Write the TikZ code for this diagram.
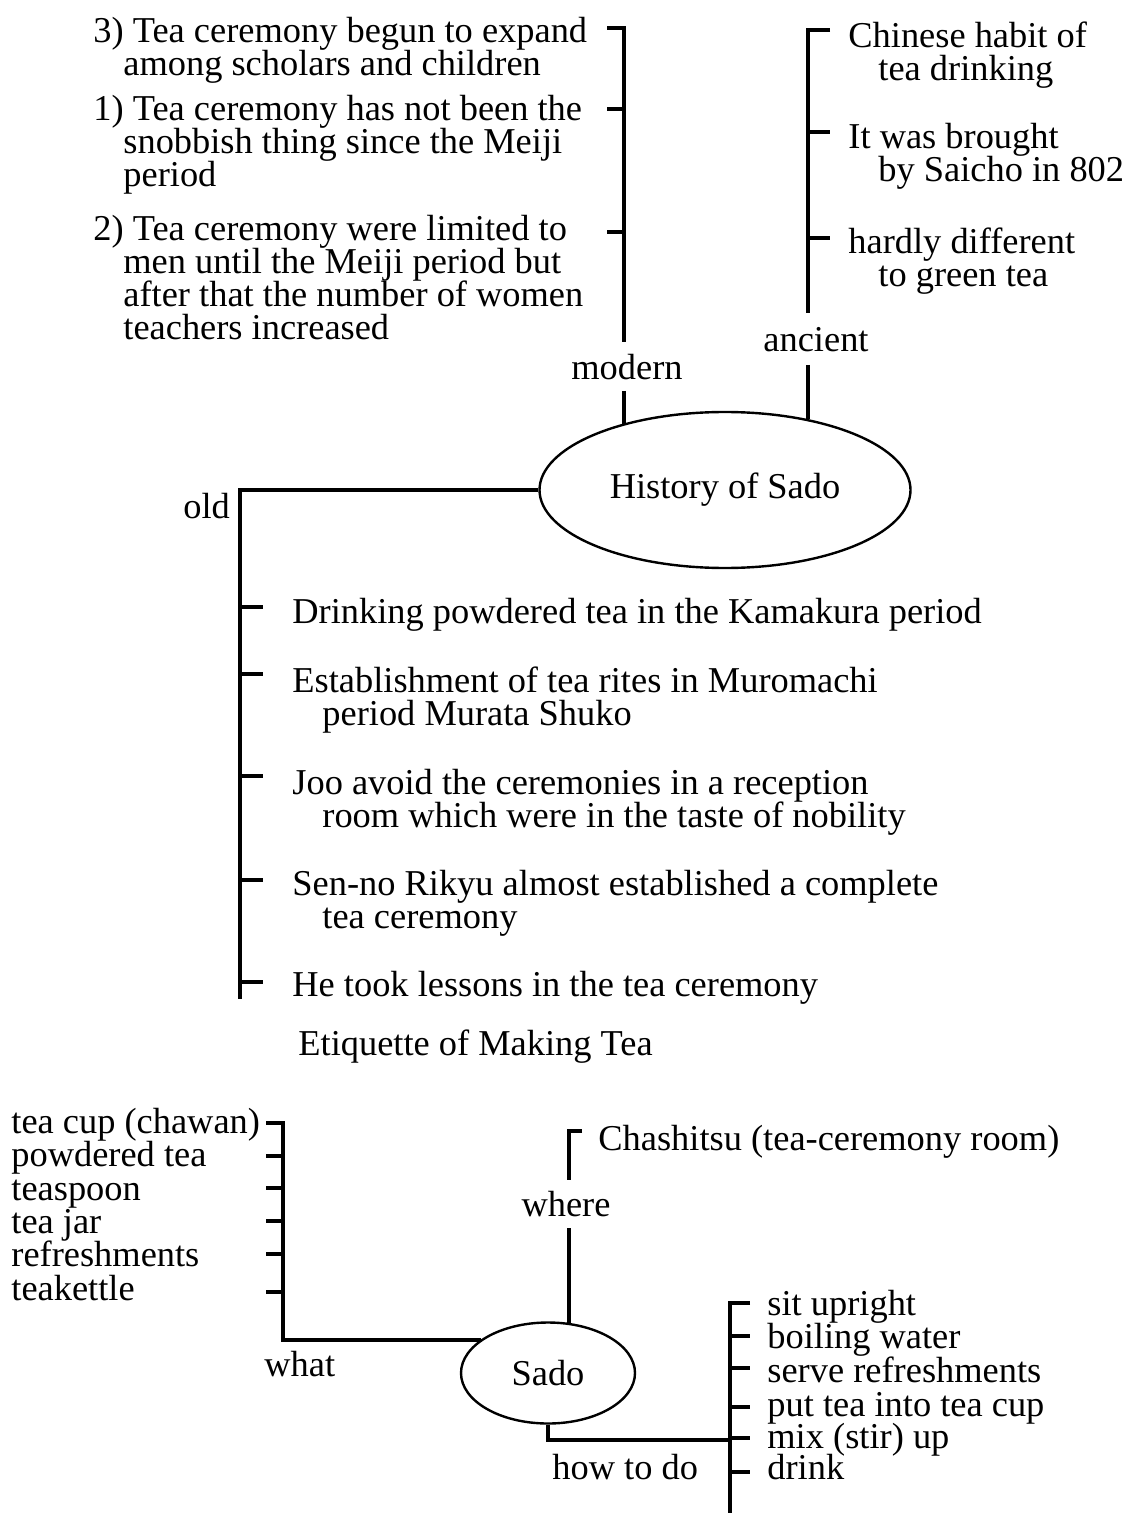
\documentclass[tikz,border=0pt]{standalone}
\usepackage{fontspec}
\setmainfont{Liberation Serif}
\usetikzlibrary{shapes.geometric}
\begin{document}
\begin{tikzpicture}[x=0.5pt, y=-0.5pt,
  leaf/.style={anchor=base west, inner sep=0pt, align=left, font=\leaffont},
  topic/.style={draw, ellipse, line width=1.2pt, inner sep=0pt, font=\leaffont},
  branch/.style={line width=1.6pt}]
\def\leaffont{\fontsize{18.2}{16.5}\selectfont\lineskiplimit=-5pt}
\def\ind{\hspace*{15pt}}
\useasboundingbox (0,0) rectangle (1123,1513);

\node[topic, minimum width=185.5pt, minimum height=78pt] (hist) at (725,490) {History of Sado};

\begin{scope} % MODERN BRANCH (placed at baseline of last line)
\node[leaf] (m3) at (93,76) {3) Tea ceremony begun to expand\\\ind among scholars and children};
\node[leaf] (m1) at (93,187) {1) Tea ceremony has not been the\\\ind snobbish thing since the Meiji\\\ind period};
\node[leaf] (m2) at (93,340) {2) Tea ceremony were limited to\\\ind men until the Meiji period but\\\ind after that the number of women\\\ind teachers increased};
\node[leaf, anchor=base] (modern) at (627,380) {modern};

\coordinate (modtop) at (624,28);
\coordinate (modbot) at (624,342);
\coordinate (modlow) at (624,391);
\coordinate (tm3) at (607,28);
\coordinate (tm1) at (607,109);
\coordinate (tm2) at (607,232);
\draw[branch] (tm3) -- (modtop) -- (modbot);
\draw[branch] (tm1) -- (tm1 -| modtop);
\draw[branch] (tm2) -- (tm2 -| modtop);
\draw[branch] (modlow) -- (modlow |- hist.148);
\end{scope}

\begin{scope} % ANCIENT BRANCH
\node[leaf] (a1) at (848,81) {Chinese habit of\\\ind tea drinking};
\node[leaf] (a2) at (848,182) {It was brought\\\ind by Saicho in 802};
\node[leaf] (a3) at (848,287) {hardly different\\\ind to green tea};
\node[leaf, anchor=base] (ancient) at (816,352) {ancient};

\coordinate (anctop) at (808,30);
\coordinate (ancbot) at (808,313);
\coordinate (anclow) at (808,365);
\coordinate (ta1) at (830,30);
\coordinate (ta2) at (830,132);
\coordinate (ta3) at (830,238);
\draw[branch] (ta1) -- (anctop) -- (ancbot);
\draw[branch] (ta2 -| anctop) -- (ta2);
\draw[branch] (ta3 -| anctop) -- (ta3);
\draw[branch] (anclow) -- (anclow |- hist.41);
\end{scope}

\begin{scope} % OLD BRANCH
\node[leaf] (old) at (183,518) {old};
\node[leaf] (o1) at (292,623) {Drinking powdered tea in the Kamakura period};
\node[leaf] (o2) at (292,725) {Establishment of tea rites in Muromachi\\\ind period Murata Shuko};
\node[leaf] (o3) at (292,827) {Joo avoid the ceremonies in a reception\\\ind room which were in the taste of nobility};
\node[leaf] (o4) at (292,928) {Sen-no Rikyu almost established a complete\\\ind tea ceremony};
\node[leaf] (o5) at (292,996) {He took lessons in the tea ceremony};

\coordinate (oldtop) at (240,490);
\coordinate (oldbot) at (240,999);
\coordinate (to1) at (263,607);
\coordinate (to2) at (263,674);
\coordinate (to3) at (263,776);
\coordinate (to4) at (263,880);
\coordinate (to5) at (263,982);
\draw[branch] (hist.west) -- (oldtop) -- (oldbot);
\draw[branch] (to1 -| oldtop) -- (to1);
\draw[branch] (to2 -| oldtop) -- (to2);
\draw[branch] (to3 -| oldtop) -- (to3);
\draw[branch] (to4 -| oldtop) -- (to4);
\draw[branch] (to5 -| oldtop) -- (to5);
\end{scope}

\node[leaf] (title) at (298,1055) {Etiquette of Making Tea};

\node[topic, minimum width=87pt, minimum height=50.5pt] (sado) at (548,1373) {Sado};

\begin{scope} % WHAT
\node[leaf] (w1) at (11,1133) {tea cup (chawan)};
\node[leaf] (w2) at (11,1166) {powdered tea};
\node[leaf] (w3) at (11,1200) {teaspoon};
\node[leaf] (w4) at (11,1233) {tea jar};
\node[leaf] (w5) at (11,1266) {refreshments};
\node[leaf] (w6) at (11,1300) {teakettle};
\node[leaf] (what) at (264,1376) {what};

\coordinate (whattop) at (283,1123);
\coordinate (whatbot) at (283,1340);
\coordinate (tw1) at (266,1123);
\coordinate (tw2) at (266,1156);
\coordinate (tw3) at (266,1188);
\coordinate (tw4) at (266,1221);
\coordinate (tw5) at (266,1254);
\coordinate (tw6) at (266,1292);
\draw[branch] (tw1) -- (whattop) -- (whatbot) -- (whatbot -| sado.153);
\draw[branch] (tw2) -- (tw2 -| whattop);
\draw[branch] (tw3) -- (tw3 -| whattop);
\draw[branch] (tw4) -- (tw4 -| whattop);
\draw[branch] (tw5) -- (tw5 -| whattop);
\draw[branch] (tw6) -- (tw6 -| whattop);
\end{scope}

\begin{scope} % WHERE
\node[leaf] (room) at (598,1150) {Chashitsu (tea-ceremony room)};
\node[leaf, anchor=base] (where) at (566,1216) {where};

\coordinate (wheretop) at (569,1131);
\coordinate (wherebot) at (569,1180);
\coordinate (wherelow) at (569,1228);
\coordinate (tr) at (582,1131);
\draw[branch] (tr) -- (wheretop) -- (wherebot);
\draw[branch] (wherelow) -- (wherelow |- sado.67);
\end{scope}

\begin{scope} % HOW TO DO
\node[leaf] (h1) at (767,1315) {sit upright};
\node[leaf] (h2) at (767,1348) {boiling water};
\node[leaf] (h3) at (767,1382) {serve refreshments};
\node[leaf] (h4) at (767,1416) {put tea into tea cup};
\node[leaf] (h5) at (767,1448) {mix (stir) up};
\node[leaf] (h6) at (767,1479) {drink};
\node[leaf] (how) at (552,1479) {how to do};

\coordinate (howtop) at (730,1303);
\coordinate (howbot) at (730,1513);
\coordinate (howcorner) at (549,1440);
\coordinate (th1) at (750,1303);
\coordinate (th2) at (750,1336);
\coordinate (th3) at (750,1368);
\coordinate (th4) at (750,1407);
\coordinate (th5) at (750,1438);
\coordinate (th6) at (750,1472);
\draw[branch] (th1) -- (howtop) -- (howbot);
\draw[branch] (sado.south) -- (sado.south |- howcorner) -- (howcorner -| howtop);
\draw[branch] (th2 -| howtop) -- (th2);
\draw[branch] (th3 -| howtop) -- (th3);
\draw[branch] (th4 -| howtop) -- (th4);
\draw[branch] (th5 -| howtop) -- (th5);
\draw[branch] (th6 -| howtop) -- (th6);
\end{scope}
\end{tikzpicture}
\end{document}
